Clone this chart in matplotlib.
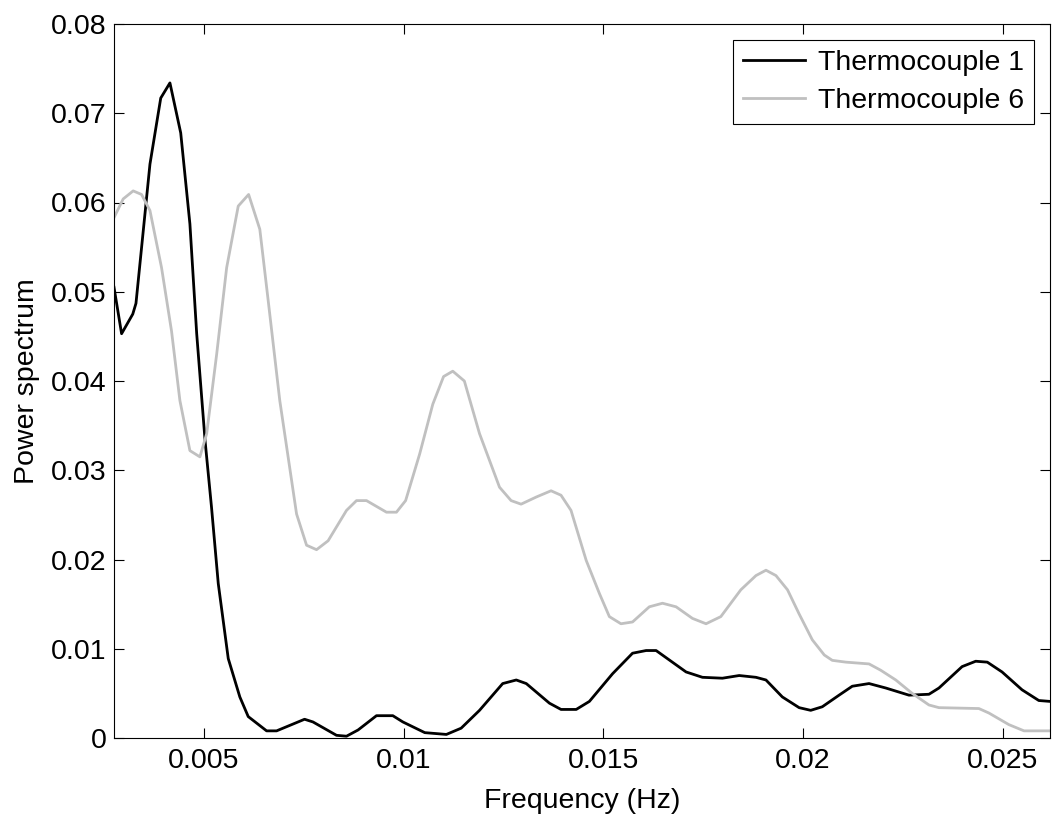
import numpy as np
import matplotlib
matplotlib.use("Agg")
import matplotlib.pyplot as plt

plt.rcParams['font.family'] = ['Liberation Sans', 'DejaVu Sans']

# Thermocouple 1 (black)
f_tc1 = [0.00275, 0.00294, 0.00322, 0.00330, 0.00365, 0.00392, 0.00415, 0.00442,
         0.00465, 0.00482, 0.00503, 0.00519, 0.00536, 0.00561, 0.00590, 0.00611,
         0.00657, 0.00682, 0.00752, 0.00773, 0.00832, 0.00857, 0.00886, 0.00932,
         0.00973, 0.00998, 0.01053, 0.01107, 0.01144, 0.01190, 0.01248, 0.01282,
         0.01307, 0.01365, 0.01394, 0.01432, 0.01465, 0.01523, 0.01573, 0.01607,
         0.01632, 0.01707, 0.01748, 0.01798, 0.01840, 0.01882, 0.01907, 0.01948,
         0.01990, 0.02019, 0.02048, 0.02090, 0.02123, 0.02165, 0.02207, 0.02265,
         0.02315, 0.02340, 0.02398, 0.02432, 0.02461, 0.02498, 0.02548, 0.02590,
         0.02618]
p_tc1 = [0.0505, 0.0453, 0.0475, 0.0487, 0.0643, 0.0717, 0.0734, 0.0678,
         0.0576, 0.0453, 0.0333, 0.0259, 0.0173, 0.0089, 0.0046, 0.0024,
         0.0008, 0.0008, 0.0021, 0.0018, 0.0003, 0.0002, 0.0009, 0.0025,
         0.0025, 0.0018, 0.0006, 0.0004, 0.0011, 0.0031, 0.0061, 0.0065,
         0.0061, 0.0039, 0.0032, 0.0032, 0.0041, 0.0072, 0.0095, 0.0098,
         0.0098, 0.0074, 0.0068, 0.0067, 0.0070, 0.0068, 0.0065, 0.0046,
         0.0034, 0.0031, 0.0035, 0.0048, 0.0058, 0.0061, 0.0056, 0.0048,
         0.0049, 0.0056, 0.0080, 0.0086, 0.0085, 0.0074, 0.0054, 0.0042,
         0.0041]

# Thermocouple 6 (grey)
f_tc6 = [0.00275, 0.00298, 0.00323, 0.00344, 0.00365, 0.00394, 0.00419, 0.00440,
         0.00465, 0.00490, 0.00507, 0.00532, 0.00557, 0.00586, 0.00612, 0.00640,
         0.00661, 0.00690, 0.00732, 0.00757, 0.00782, 0.00811, 0.00857, 0.00882,
         0.00907, 0.00957, 0.00982, 0.01005, 0.01040, 0.01073, 0.01100, 0.01123,
         0.01152, 0.01190, 0.01240, 0.01269, 0.01294, 0.01332, 0.01369, 0.01394,
         0.01419, 0.01457, 0.01490, 0.01515, 0.01544, 0.01573, 0.01615, 0.01648,
         0.01682, 0.01723, 0.01757, 0.01794, 0.01844, 0.01882, 0.01907, 0.01932,
         0.01961, 0.01990, 0.02023, 0.02053, 0.02073, 0.02107, 0.02165, 0.02194,
         0.02232, 0.02273, 0.02315, 0.02340, 0.02440, 0.02465, 0.02515, 0.02553,
         0.02618]
p_tc6 = [0.0583, 0.0604, 0.0613, 0.0609, 0.0591, 0.0527, 0.0456, 0.0378,
         0.0322, 0.0315, 0.0341, 0.0430, 0.0527, 0.0596, 0.0609, 0.0570,
         0.0490, 0.0378, 0.0251, 0.0216, 0.0211, 0.0221, 0.0255, 0.0266,
         0.0266, 0.0253, 0.0253, 0.0266, 0.0318, 0.0374, 0.0405, 0.0411,
         0.0400, 0.0341, 0.0281, 0.0266, 0.0262, 0.0270, 0.0277, 0.0272,
         0.0255, 0.0199, 0.0162, 0.0136, 0.0128, 0.0130, 0.0147, 0.0151,
         0.0147, 0.0134, 0.0128, 0.0136, 0.0166, 0.0182, 0.0188, 0.0182,
         0.0166, 0.0139, 0.0110, 0.0093, 0.0087, 0.0085, 0.0083, 0.0076,
         0.0065, 0.0050, 0.0037, 0.0034, 0.0033, 0.0028, 0.0015, 0.0008,
         0.0008]

x_ticks = [0.005, 0.01, 0.015, 0.02, 0.025]
x_labels = ['0.005', '0.01', '0.015', '0.02', '0.025']
y_ticks = [0, 0.01, 0.02, 0.03, 0.04, 0.05, 0.06, 0.07, 0.08]
y_labels = ['0', '0.01', '0.02', '0.03', '0.04', '0.05', '0.06', '0.07', '0.08']

fs = 20.5

fig = plt.figure(figsize=(10.53, 8.16), dpi=100)
ax = fig.add_axes([114 / 1053, 78 / 816, 936 / 1053, 714 / 816])

ax.plot(f_tc1, p_tc1, color='black', lw=2.0, label='Thermocouple 1')
ax.plot(f_tc6, p_tc6, color='#c0c0c0', lw=2.0, label='Thermocouple 6')

ax.set_xlim(0.00275, 0.02618)
ax.set_ylim(0, 0.08)
ax.set_xticks(x_ticks)
ax.set_xticklabels(x_labels)
ax.set_yticks(y_ticks)
ax.set_yticklabels(y_labels)
ax.tick_params(direction='in', length=7, width=0.8, labelsize=fs,
               top=True, right=True)
ax.tick_params(axis='x', pad=7)
ax.tick_params(axis='y', pad=5.5)
for s in ax.spines.values():
    s.set_linewidth(0.8)

ax.set_xlabel('Frequency (Hz)', fontsize=fs, labelpad=10)
ax.set_ylabel('Power spectrum', fontsize=fs, labelpad=8)

leg = ax.legend(loc='upper right', fontsize=fs, fancybox=False, framealpha=1,
                edgecolor='black', borderaxespad=0.55, handlelength=2.2,
                borderpad=0.35, labelspacing=0.45, handletextpad=0.45)
leg.get_frame().set_linewidth(0.8)

fig.savefig('out.png', dpi=100)
